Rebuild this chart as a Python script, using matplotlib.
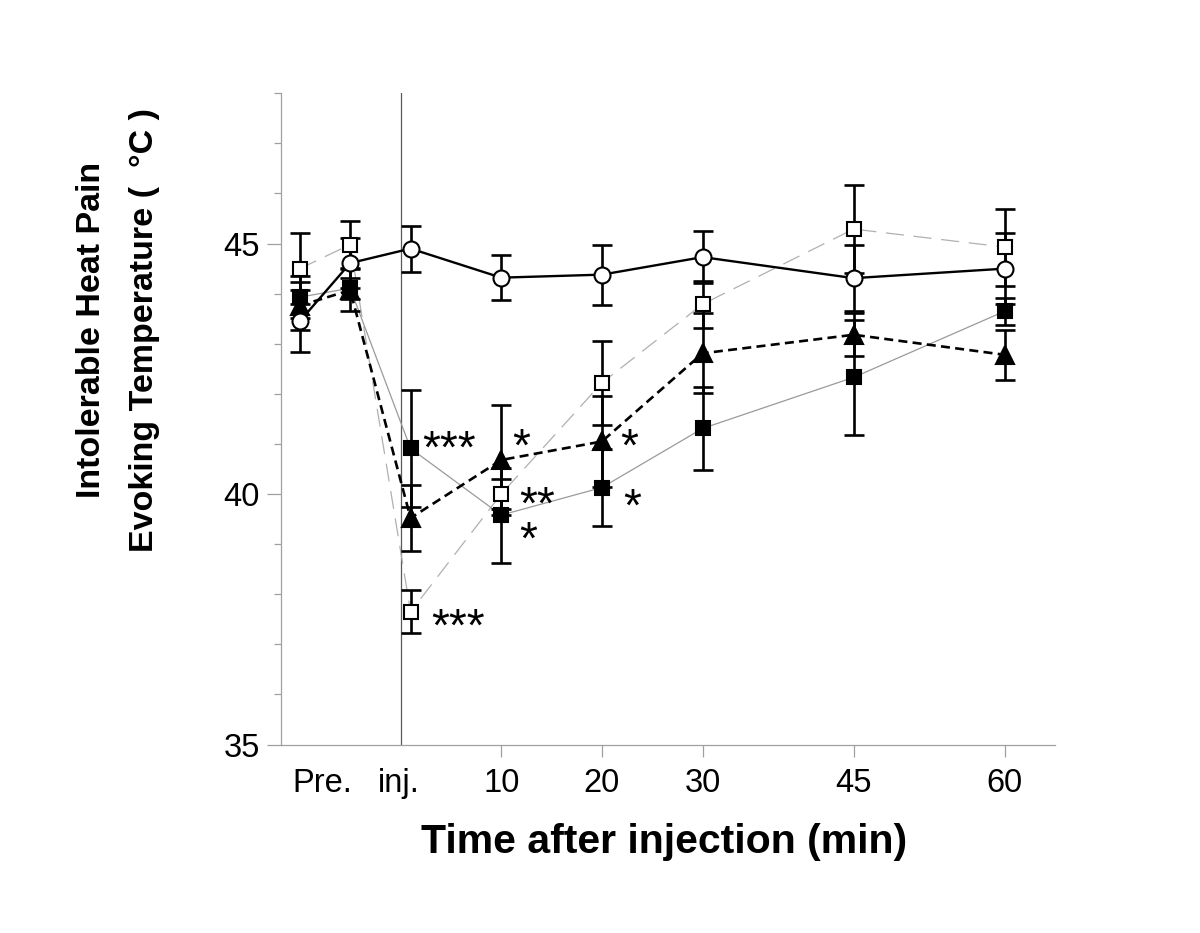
import matplotlib
matplotlib.use('Agg')
import matplotlib.pyplot as plt
from matplotlib.ticker import MultipleLocator

plt.rcParams['font.family'] = ['Liberation Sans', 'DejaVu Sans']
plt.rcParams['lines.scale_dashes'] = False

# Data (min, relative to injection; -10 / -5 are the baseline measurements)
times = [-10, -5, 1, 10, 20, 30, 45, 60]

circle_mean = [43.45, 44.61, 44.90, 44.32, 44.38, 44.73, 44.31, 44.50]
circle_se = [0.62, 0.50, 0.46, 0.45, 0.60, 0.52, 0.66, 0.71]

open_sq_mean = [44.50, 44.98, 37.65, 40.00, 42.22, 43.79, 45.29, 44.93]
open_sq_se = [0.71, 0.47, 0.43, 0.30, 0.84, 0.47, 0.87, 0.77]

filled_sq_mean = [43.93, 44.11, 40.91, 39.58, 40.13, 41.31, 42.33, 43.65]
filled_sq_se = [0.42, 0.21, 1.17, 0.95, 0.77, 0.82, 1.15, 0.27]

tri_mean = [43.76, 44.07, 39.52, 40.68, 41.05, 42.81, 43.18, 42.78]
tri_se = [0.48, 0.42, 0.66, 1.10, 0.91, 0.80, 0.43, 0.50]

# significance marks: (label, series, time index)
# at 10 min the open-square "**" and filled-square "*" sit in one stacked label
star_labels = ['***', '***', '*', '**\n*', '*', '*']
star_series = ['filled_sq', 'open_sq', 'tri', 'open_sq', 'tri', 'filled_sq']
star_index = [2, 2, 3, 3, 4, 4]

xtick_pos = [-7.8, -0.2, 10, 20, 30, 45, 60]
xtick_labels = ['Pre.', 'inj.', '10', '20', '30', '45', '60']
ytick_pos = [35, 40, 45]

fig = plt.figure(figsize=(12, 9.33), dpi=100)
ax = fig.add_axes([0.2339, 0.2020, 0.6453, 0.6980])

series = {
    'open_sq': (open_sq_mean, open_sq_se),
    'filled_sq': (filled_sq_mean, filled_sq_se),
    'tri': (tri_mean, tri_se),
    'circle': (circle_mean, circle_se),
}
line_style = {
    'open_sq': dict(color='#b0b0b0', lw=0.9, ls=(0, (13, 7))),
    'filled_sq': dict(color='#9a9a9a', lw=0.9, ls='-'),
    'tri': dict(color='black', lw=1.9, ls=(0, (6.5, 3.8))),
    'circle': dict(color='black', lw=1.7, ls='-'),
}
marker_style = {
    'open_sq': dict(marker='s', ms=10.5, mfc='white'),
    'filled_sq': dict(marker='s', ms=10.5, mfc='black'),
    'tri': dict(marker='^', ms=13, mfc='black'),
    'circle': dict(marker='o', ms=11.5, mfc='white'),
}

ax.axvline(0, color='#5a5a5a', lw=0.9, zorder=1)

for key, (m, s) in series.items():
    ax.plot(times, m, zorder=2, **line_style[key])
for key, (m, s) in series.items():
    ax.errorbar(times, m, yerr=s, fmt='none', ecolor='black', elinewidth=1.9,
                capsize=7, capthick=1.9, zorder=3)
for key, (m, s) in series.items():
    ax.plot(times, m, ls='none', mec='black', mew=1.5, zorder=4, **marker_style[key])

# asterisk offsets (pixels): to glyph left edge, to centre of last-line glyph
star_offsets = [(12, 11.6), (20.7, -3.3), (10.7, 25), (18, -33.4),
                (18.3, 6.7), (21.7, -7.7)]
star_fs = 33
for lab, key, i, (dx, dy) in zip(star_labels, star_series, star_index, star_offsets):
    m = series[key][0]
    ax.annotate(lab, xy=(times[i], m[i]), xycoords='data',
                xytext=(dx / 1.389, dy / 1.389 - 0.565 * star_fs),
                textcoords='offset points', ha='left', va='baseline',
                multialignment='left', linespacing=0.72,
                fontsize=star_fs, zorder=5)

ax.set_xlim(-11.9, 65.0)
ax.set_ylim(35, 48)

ax.set_xticks(xtick_pos)
ax.set_xticklabels(xtick_labels, fontsize=23.5)
for t in ax.xaxis.get_major_ticks()[:2]:
    t.tick1line.set_visible(False)
ax.tick_params(axis='x', length=8.6, width=0.9, color='#a0a0a0', pad=8.6)

ax.set_yticks(ytick_pos)
ax.set_yticklabels([str(v) for v in ytick_pos], fontsize=23.5)
ax.yaxis.set_minor_locator(MultipleLocator(1))
ax.tick_params(axis='y', which='major', length=10, width=0.9, color='#a0a0a0', pad=4.8)
ax.tick_params(axis='y', which='minor', length=5, width=0.9, color='#a0a0a0')

for side in ['top', 'right']:
    ax.spines[side].set_visible(False)
for side in ['left', 'bottom']:
    ax.spines[side].set_color('#a0a0a0')
    ax.spines[side].set_linewidth(0.9)

fig.text(664 / 1200, (933 - 852.7) / 933, 'Time after injection (min)',
         ha='center', va='baseline', fontsize=29.5, fontweight='bold')

fig.text(118 / 1200, (933 - 330) / 933,
         'Intolerable Heat Pain\nEvoking Temperature (  °C )',
         rotation=90, ha='center', va='center', multialignment='center',
         linespacing=1.9, fontsize=24.5, fontweight='bold')

fig.savefig('out.png', dpi=100)
